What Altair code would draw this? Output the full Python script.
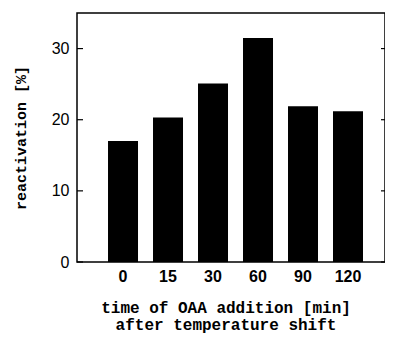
import altair as alt
import pandas as pd

times = ["0", "15", "30", "60", "90", "120"]
reactivation = [17.0, 20.3, 25.1, 31.5, 21.9, 21.2]
tick_values = [0, 10, 20, 30]

df = pd.DataFrame({"time": times, "value": reactivation})
ticks = pd.DataFrame({"t": tick_values})

W, H = 308, 249

x_enc = alt.X(
    "time:N",
    sort=times,
    scale=alt.Scale(paddingInner=1 / 3, paddingOuter=0.589, align=0.585),
    axis=alt.Axis(
        title=["time of OAA addition [min]", "after temperature shift"],
        titleFont="Liberation Mono",
        titleFontSize=16,
        titleFontWeight="bold",
        titleColor="black",
        titleLineHeight=17,
        titleBaseline="alphabetic",
        titleAlign="center",
        titleX=148.5,
        titleY=50,
        labelFont="Liberation Sans",
        labelFontSize=16,
        labelFontWeight="bold",
        labelColor="black",
        labelAngle=0,
        labelPadding=6,
        ticks=False,
        domain=False,
    ),
)

y_scale = alt.Scale(domain=[0, 35], nice=False)

bars = alt.Chart(df).mark_bar(color="black").encode(
    x=x_enc,
    y=alt.Y(
        "value:Q",
        scale=y_scale,
        axis=alt.Axis(
            title="reactivation [%]",
            titleFont="Liberation Mono",
            titleFontSize=15,
            titleFontWeight="bold",
            titleColor="black",
            titleAngle=270,
            titleBaseline="alphabetic",
            titleAlign="center",
            titleX=-52,
            titleY=124.5,
            values=tick_values,
            labelFont="Liberation Sans",
            labelFontSize=16,
            labelColor="black",
            labelPadding=8,
            ticks=False,
            domain=False,
            grid=False,
        ),
    ),
)

left_ticks = alt.Chart(ticks).mark_rule(color="black", strokeWidth=1.2).encode(
    y=alt.Y("t:Q", scale=y_scale),
    x=alt.value(0),
    x2=alt.value(6),
)

right_ticks = alt.Chart(ticks).mark_rule(color="black", strokeWidth=1.2).encode(
    y=alt.Y("t:Q", scale=y_scale),
    x=alt.value(W - 4),
    x2=alt.value(W),
)

chart = (
    alt.layer(bars, left_ticks, right_ticks)
    .properties(
        width=W,
        height=H,
        background="white",
        autosize=alt.AutoSizeParams(type="none"),
        padding={"left": 69, "top": 5, "right": 0, "bottom": 72},
    )
    .configure_view(stroke="black", strokeWidth=1.5)
)

chart.save("out.html", embed_options={"renderer": "svg", "actions": False})
